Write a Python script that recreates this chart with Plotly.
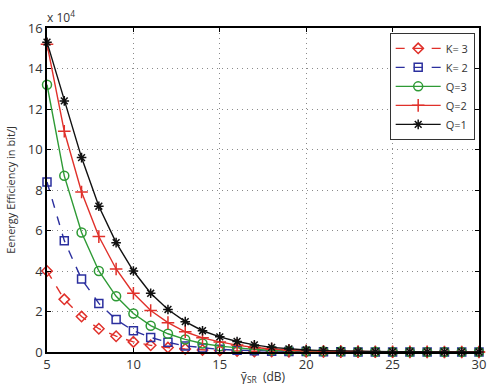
import plotly.graph_objects as go

snr_db = list(range(5, 31))

# Energy efficiency values in units of 1e4 bit/J
ee_K3 = [4.0, 2.6, 1.75, 1.15, 0.78, 0.5, 0.33, 0.22, 0.15, 0.1, 0.07, 0.05, 0.03, 0.02, 0.015, 0.01,
         0.007, 0.005, 0.003, 0.002, 0.001, 0.001, 0.001, 0.0, 0.0, 0.0]
ee_K2 = [8.4, 5.5, 3.6, 2.4, 1.6, 1.05, 0.72, 0.48, 0.3, 0.2, 0.13, 0.09, 0.06, 0.04, 0.03, 0.02,
         0.013, 0.009, 0.006, 0.004, 0.003, 0.002, 0.001, 0.001, 0.001, 0.0]
ee_Q3 = [13.2, 8.7, 5.9, 4.0, 2.75, 1.9, 1.3, 0.9, 0.62, 0.42, 0.29, 0.2, 0.13, 0.09, 0.06, 0.04,
         0.03, 0.02, 0.013, 0.009, 0.006, 0.004, 0.003, 0.002, 0.001, 0.001]
ee_Q2 = [15.2, 10.9, 7.9, 5.7, 4.1, 2.9, 2.05, 1.45, 1.0, 0.7, 0.5, 0.34, 0.22, 0.14, 0.09, 0.06,
         0.04, 0.03, 0.02, 0.013, 0.009, 0.006, 0.004, 0.003, 0.002, 0.001]
ee_Q1 = [15.3, 12.4, 9.6, 7.2, 5.4, 4.0, 2.9, 2.1, 1.5, 1.05, 0.75, 0.52, 0.35, 0.23, 0.15, 0.1,
         0.07, 0.05, 0.03, 0.02, 0.015, 0.01, 0.007, 0.005, 0.003, 0.002]

series = [
    ("K= 3", ee_K3, "#e0302a", "dash", "diamond-open", 8),
    ("K= 2", ee_K2, "#2b2f9e", "dash", "square-open", 8),
    ("Q=3", ee_Q3, "#2e9a35", "solid", "circle-open", 9),
    ("Q=2", ee_Q2, "#e0302a", "solid", "cross-thin-open", 9),
    ("Q=1", ee_Q1, "#111111", "solid", "asterisk-open", 8),
]

fig = go.Figure()
for name, vals, col, dash, sym, sz in series:
    fig.add_trace(go.Scatter(
        x=snr_db, y=vals, name=name, mode="lines+markers",
        line=dict(color=col, width=1.4, dash=dash),
        marker=dict(symbol=sym, size=sz, color=col, line=dict(color=col, width=1.5)),
        cliponaxis=False,
    ))

axis_common = dict(
    showline=True, linecolor="black", linewidth=1.5, mirror="ticks",
    ticks="inside", ticklen=4, tickcolor="black",
    showgrid=True, gridcolor="#8a8a8a", griddash="1px,4px", gridwidth=1,
    zeroline=False, tickfont=dict(family="Open Sans", size=13, color="#333"),
    ticklabeloverflow="allow",
)

fig.update_layout(
    width=491, height=387,
    margin=dict(l=47, r=5, t=28, b=29),
    paper_bgcolor="white", plot_bgcolor="white",
    font=dict(family="Open Sans", color="#333"),
    showlegend=True,
    legend=dict(x=0.99, y=0.985, xanchor="right", yanchor="top",
                bgcolor="white", bordercolor="#333", borderwidth=1,
                font=dict(size=11, color="#333"), tracegroupgap=0,
                itemwidth=45),
    xaxis=dict(range=[5, 30], tickvals=[5, 10, 15, 20, 25, 30], **axis_common,
               title=dict(text="γ̄<sub>SR</sub>  (dB)", font=dict(size=12, color="#333"), standoff=0)),
    yaxis=dict(range=[0, 16], tickvals=list(range(0, 17, 2)), **axis_common,
               title=dict(text="Eenergy Efficiency in bit/J", font=dict(size=11, color="#333"), standoff=10)),
)

fig.add_annotation(x=0, y=1, xref="paper", yref="paper", xanchor="left", yanchor="bottom",
                   text="x 10<sup>4</sup>", showarrow=False, font=dict(size=12, color="#333"),
                   xshift=-2, yshift=0)

fig.write_html("out.html")
